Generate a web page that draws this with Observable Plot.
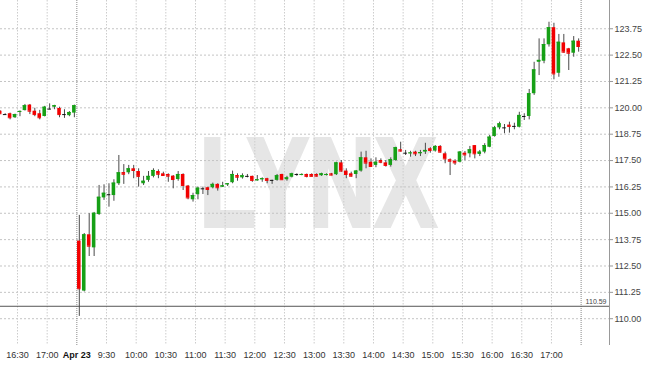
<!DOCTYPE html>
<html><head><meta charset="utf-8">
<script src="https://cdn.jsdelivr.net/npm/d3@7"></script>
<script src="https://cdn.jsdelivr.net/npm/@observablehq/plot@0.6"></script>
<style>
body{margin:0;background:#fff;}
#chart svg{display:block;}
</style></head><body><div id="chart"></div>
<script>
// sessions (5-minute candles)
const sessionDates = ["Apr 22", "Apr 23"];
const sessionStarts = ["16:10", "9:00"];
const sessionEnds = ["17:25", "17:25"];

const open = [119.84,119.68,119.72,119.53,119.78,119.87,120.13,119.84,119.72,119.59,119.94,120.03,119.97,119.68,119.63,119.75,
113.68,111.31,113.98,113.36,114.94,115.73,115.88,115.84,116.40,116.93,116.92,117.11,116.98,116.40,116.56,116.75,116.98,116.87,116.84,116.76,116.60,116.84,116.29,115.64,115.88,116.16,116.21,116.21,116.37,116.24,116.35,116.45,116.79,116.68,116.75,116.75,116.54,116.59,116.64,116.56,116.56,116.84,116.59,116.71,116.84,116.80,116.84,116.84,116.84,116.78,116.79,116.87,116.83,117.39,117.00,116.87,116.84,117.00,117.63,117.42,117.27,117.50,117.39,117.27,117.50,118.01,117.85,117.83,117.90,117.82,117.90,118.06,117.95,118.17,117.82,117.54,117.47,117.42,117.85,117.82,118.21,117.79,117.90,118.13,118.64,119.05,119.05,119.18,119.12,119.08,119.59,119.59,120.67,122.16,122.21,122.99,123.80,121.64,123.08,122.80,122.59,123.16];
const high = [119.86,119.72,119.75,119.70,119.85,120.16,120.16,119.98,119.88,120.07,120.19,120.12,120.03,119.91,119.82,120.13,
114.90,114.04,114.98,115.04,116.32,116.35,116.40,116.59,117.74,117.31,117.27,117.27,117.11,116.75,116.98,117.11,117.06,116.95,116.87,116.79,116.98,116.87,116.32,115.95,116.24,116.24,116.24,116.43,116.40,116.47,116.40,117.00,116.87,116.87,116.84,116.76,116.79,116.68,116.66,116.57,116.84,116.85,116.75,116.90,116.87,116.87,116.86,116.87,116.87,116.90,116.87,116.89,117.42,117.50,117.11,116.95,117.03,117.90,117.94,117.58,117.63,117.58,117.50,117.63,118.13,118.37,117.98,117.94,117.94,117.98,118.32,118.11,118.21,118.21,117.90,117.58,117.54,117.93,117.93,118.17,118.21,117.98,118.30,118.69,119.12,119.32,119.21,119.32,119.27,119.79,119.72,120.87,122.16,123.27,123.27,124.06,124.01,123.48,123.48,122.82,123.38,123.27];
const low = [119.70,119.64,119.43,119.50,119.58,119.85,119.68,119.58,119.43,119.57,119.91,119.91,119.53,119.50,119.58,119.53,
110.11,111.27,112.95,112.95,114.90,115.61,115.29,115.57,116.32,116.37,116.83,116.64,116.24,116.32,116.47,116.68,116.64,116.75,116.47,116.16,116.52,116.08,115.64,115.53,115.64,115.89,115.84,116.16,116.05,116.22,116.27,116.40,116.52,116.62,116.68,116.47,116.52,116.47,116.40,116.37,116.52,116.56,116.52,116.68,116.75,116.78,116.68,116.73,116.72,116.75,116.77,116.78,116.79,116.95,116.64,116.71,116.64,116.95,117.11,117.19,117.16,117.35,117.19,117.19,117.47,117.90,117.74,117.66,117.69,117.69,117.79,117.85,117.90,117.85,117.35,116.79,117.27,117.39,117.50,117.63,117.58,117.69,117.82,118.11,118.61,118.96,118.77,118.80,118.96,119.05,119.40,119.43,120.59,121.53,122.09,122.88,121.33,121.45,122.59,121.77,122.40,122.64];
const close = [119.72,119.68,119.53,119.68,119.83,120.10,119.84,119.68,119.53,120.03,119.94,120.10,119.68,119.68,119.78,120.10,
111.42,113.98,113.44,115.00,115.76,115.95,115.88,116.43,116.92,116.85,117.11,117.03,116.75,116.52,116.75,117.03,116.85,116.79,116.76,116.60,116.84,116.32,115.73,115.84,116.19,116.16,116.13,116.37,116.21,116.30,116.40,116.84,116.71,116.78,116.75,116.56,116.59,116.64,116.56,116.56,116.78,116.59,116.68,116.87,116.84,116.84,116.75,116.75,116.76,116.87,116.84,116.81,117.39,117.00,116.84,116.76,117.00,117.63,117.38,117.22,117.42,117.42,117.27,117.54,118.11,117.95,117.85,117.86,117.82,117.88,117.98,117.98,118.17,117.90,117.58,117.47,117.39,117.90,117.77,118.01,117.82,117.90,118.21,118.61,119.05,119.24,119.05,119.12,119.12,119.64,119.59,120.67,121.80,122.25,123.00,123.80,121.61,123.11,122.64,122.59,123.16,122.91];

const refLevel = [110.59];
const yTicks = [110.00,111.25,112.50,113.75,115.00,116.25,117.50,118.75,120.00,121.25,122.50,123.75];
const xTickLabels = ["16:30","17:00","Apr 23","9:30","10:00","10:30","11:00","11:30","12:00","12:30","13:00","13:30","14:00","14:30","15:00","15:30","16:00","16:30","17:00"];

// build candle times per session
function toMin(s){const [h,m]=s.split(":").map(Number);return h*60+m;}
function fmt(m){return Math.floor(m/60)+":"+String(m%60).padStart(2,"0");}
const candles = [];
const sessionFirst = [];
sessionDates.forEach((date, s) => {
  sessionFirst.push(candles.length);
  for (let m = toMin(sessionStarts[s]); m <= toMin(sessionEnds[s]); m += 5) {
    const i = candles.length;
    candles.push({i, session: s, time: fmt(m), open: open[i], high: high[i], low: low[i], close: close[i]});
  }
});
// tick positions (candle boundaries)
let sess = 0;
const ticks = xTickLabels.map(lab => {
  if (sessionDates.includes(lab)) { sess = sessionDates.indexOf(lab); return {pos: sessionFirst[sess] - 0.5, lab, bold: true}; }
  const c = candles.find(d => d.session === sess && d.time === lab);
  return {pos: c.i - 0.5, lab, bold: false};
});
const separators = [sessionFirst[1] - 0.5, candles.length - 0.5];

const xDomain = [0.06, 123.24];
const colorOf = d => d.close > d.open ? "#16a016" : d.close < d.open ? "#f20000" : "#111";
const hw = 0.36;

const chart = Plot.plot({
  width: 645, height: 365,
  marginLeft: 0, marginRight: 36, marginTop: 0, marginBottom: 20,
  x: {domain: xDomain, axis: null},
  y: {domain: [108.73, 125.09], axis: null},
  style: {fontFamily: "'Liberation Sans', Arial, sans-serif", background: "#fff", overflow: "visible"},
  marks: [
    Plot.text(["LYNX"], {frameAnchor: "middle", dx: 18, dy: 13, fontSize: 126, fontWeight: "bold", fill: "#e6e6e6",
      stroke: "#e6e6e6", strokeWidth: 4, strokeLinejoin: "miter", ariaLabel: "watermark"}),
    Plot.ruleY(yTicks, {stroke: "#c4c4c4", strokeDasharray: "2,2"}),
    Plot.ruleX(ticks.filter(t => !t.bold), {x: "pos", stroke: "#cccccc", strokeDasharray: "1.5,1.5"}),
    Plot.ruleX(separators, {stroke: "#8a8a8a", strokeDasharray: "1,1"}),
    Plot.ruleY(refLevel, {stroke: "#555"}),
    Plot.text(refLevel, {y: d => d, text: d => d.toFixed(2), frameAnchor: "right", textAnchor: "end", dx: -3, dy: -5, fontSize: 7, fill: "#444"}),
    Plot.ruleX(candles, {x: "i", y1: "low", y2: "high", stroke: "#4a4a4a", strokeWidth: 1, clip: true}),
    Plot.rect(candles, {x1: d => d.i - hw, x2: d => d.i + hw, y1: "open", y2: "close", fill: colorOf, clip: true}),
    Plot.ruleY(candles, {x1: d => d.i - hw, x2: d => d.i + hw, y: "close", stroke: colorOf, clip: true}),
    Plot.ruleX([xDomain[1]], {stroke: "#999"}),
    Plot.axisX(ticks.filter(t => !t.bold).map(t => t.pos), {tickSize: 0, tickPadding: 6, fontSize: 9, fill: "#333",
      tickFormat: p => ticks.find(t => t.pos === p).lab}),
    Plot.axisX(ticks.filter(t => t.bold).map(t => t.pos), {tickSize: 0, tickPadding: 6, fontSize: 9, fill: "#111", fontWeight: "bold",
      tickFormat: p => ticks.find(t => t.pos === p).lab}),
    Plot.axisY(yTicks, {anchor: "right", tickSize: 3, tickPadding: 2, fontSize: 9, fill: "#444", stroke: "#999",
      tickFormat: d => d.toFixed(2)})
  ]
});
document.getElementById("chart").appendChild(chart);
// condense the watermark horizontally
const wm = chart.querySelector('g[aria-label="watermark"]') || chart.querySelector('g[aria-label="text"]');
if (wm) {
  const bb = wm.getBBox(); const cx = bb.x + bb.width / 2;
  const g = document.createElementNS("http://www.w3.org/2000/svg", "g");
  g.setAttribute("transform", `translate(${cx},0) scale(0.73,1) translate(${-cx},0)`);
  wm.parentNode.insertBefore(g, wm); g.appendChild(wm);
}
</script></body></html>
